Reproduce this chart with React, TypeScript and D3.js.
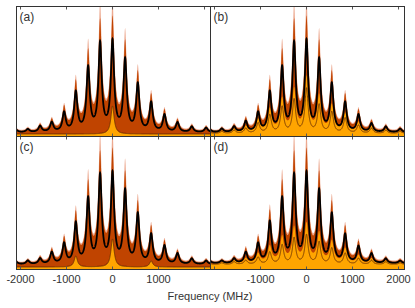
import React from 'react'
import * as d3 from 'd3'

// peak positions of the comb (MHz)
const peakMHz = [-2105, -1841, -1574, -1320, -1052, -798, -530, -270, 0, 274, 550, 840, 1130, 1413, 1724, 2035, 2340]

// total fit amplitudes (black line)
const fitA = [3, 3, 6, 9.5, 19, 39, 63, 87, 89, 71, 47, 29, 17, 9.5, 5.5, 4.5, 3]
const fitB = [3, 3.5, 5.5, 10.5, 19, 39, 63, 87, 89, 71, 47, 29, 17, 8.5, 5.5, 3.5, 3]
const fitC = [3, 3.5, 5.5, 11.5, 20, 40, 64, 87, 89, 72, 49, 29, 18, 10.5, 5.5, 3.5, 3]
const fitD = [2.5, 2.5, 4.5, 10.5, 19, 40, 63, 86, 88, 71, 48, 28, 16.5, 9.5, 4.5, 2.5, 2]

// component fit amplitudes (brown line, orange fill)
const compA = [0, 0, 0, 0, 0, 0, 0, 0, 28, 0, 0, 0, 0, 0, 0, 0, 0]
const compB = [1, 2, 3, 5, 10, 18, 26, 33, 44, 28, 21, 15, 8, 5, 3, 2, 1]
const compC = [0, 0, 0, 0, 0, 11, 0, 0, 28, 0, 0, 6, 0, 0, 0, 0, 0]
const compD = [1, 1.5, 2.5, 4, 7, 12, 19, 26, 29, 22, 16, 11, 6, 4, 2.5, 1.5, 1]

// measured peak values of the data histogram
const dataA = [6, 7, 10, 16, 30, 48, 86, 98, 106, 76, 55, 41, 26, 16, 11, 7, 6]
const dataB = [6, 8, 11, 16, 29, 48, 86, 95, 106, 76, 55, 40, 22, 14, 11, 8, 6]
const dataC = [8, 10, 12, 19, 26, 49, 87, 100, 108, 78, 57, 41, 28, 18, 12, 10, 8]
const dataD = [8, 10, 12, 22, 31, 49, 87, 100, 108, 78, 57, 41, 28, 16, 12, 10, 8]

// excess of the data over the fit in the peak wings
const wingA = [0.5, 0.5, 1, 2, 4, 8, 13, 18, 19, 14, 9, 6, 3.5, 2, 1, 1, 0.5]
const wingB = [0.5, 0.5, 1, 2, 4, 8, 13, 18, 19, 14, 9, 6, 3.5, 2, 1, 1, 0.5]
const wingC = [0.5, 0.5, 1, 2, 4, 8, 13, 18, 19, 14, 9, 6, 3.5, 2, 1, 1, 0.5]
const wingD = [0.5, 0.5, 1, 2, 4, 8, 13, 18, 19, 14, 9, 6, 3.5, 2, 1, 1, 0.5]
const compWingB = [0, 0.5, 1, 1.5, 3, 5, 7, 9, 10, 8, 6, 4, 2.5, 1.5, 1, 0.5, 0]
const compWingD = [0, 0.5, 1, 1.5, 3, 5, 7, 9, 10, 8, 6, 4, 2.5, 1.5, 1, 0.5, 0]
const compWingNone = peakMHz.map(() => 0)

const baseTotal = [4, 4, 5, 6]
const baseComp = [2.5, 3, 2.5, 5]
const labels = ['(a)', '(b)', '(c)', '(d)']
const xTicks = [-2000, -1000, 0, 1000, 2000]
const tickLabelsC = [-2000, -1000, 0, 1000]
const tickLabelsD = [-1000, 0, 1000, 2000]

const GAMMA = 42
const WING = 95
const SPIKE = 16
const FONT = '"Liberation Sans", Arial, sans-serif'

const lor = (x: number, x0: number, g: number) => {
  const d = x - x0
  return (g * g) / (d * d + g * g)
}

const sumPeaks = (x: number, amps: number[], base: number, g: number) => {
  let s = base
  peakMHz.forEach((p, i) => { s += amps[i] * lor(x, p, g) })
  return s
}

// error bar half-length for a bin value
const errOf = (d: number) => 1 + 0.0011 * d * d

const xs = d3.range(-2100, 2140, 2)

function Panel({ i, x0, y0, w, h, fit, comp, data, wing, compWing, tickLabels }: any) {
  const x = d3.scaleLinear().domain([-2087, 2130]).range([x0, x0 + w])
  const bottom = y0 + h
  const y = d3.scaleLinear().domain([0, 130]).range([bottom, bottom - 130])

  const total = (v: number) => sumPeaks(v, fit, baseTotal[i], GAMMA)
  const smooth = (v: number) => total(v) + sumPeaks(v, wing, 0, WING)
  const atPeak = peakMHz.map(p => smooth(p))
  const dataV = (v: number) => {
    let s = smooth(v)
    peakMHz.forEach((p, k) => { s += Math.max(0, data[k] - atPeak[k]) * lor(v, p, SPIKE) })
    return s
  }
  const compV = (v: number) => sumPeaks(v, comp, baseComp[i], GAMMA)
  const compData = (v: number) => compV(v) + sumPeaks(v, compWing, 0, WING)

  const pts = xs.map(v => ({ v, t: total(v), d: dataV(v), c: compV(v), cd: compData(v) }))

  const errBand = d3.area<any>()
    .x(p => x(p.v))
    .y0(p => y(p.d - errOf(p.d)))
    .y1(p => y(p.d + errOf(p.d)))
  const dataArea = d3.area<any>().x(p => x(p.v)).y0(bottom).y1(p => y(p.d))
  const compArea = d3.area<any>().x(p => x(p.v)).y0(bottom).y1(p => y(p.cd))
  const compLine = d3.line<any>().x(p => x(p.v)).y(p => y(p.c))
  const totalLine = d3.line<any>().x(p => x(p.v)).y(p => y(p.t))

  const clipId = `clip${i}`
  return (
    <g>
      <clipPath id={clipId}>
        <rect x={x0} y={y0} width={w} height={h} />
      </clipPath>
      <g clipPath={`url(#${clipId})`}>
        <path d={errBand(pts) || ''} fill="#e99a7c" fillOpacity={0.85} />
        <path d={dataArea(pts) || ''} fill="#c04400" />
        <path d={compArea(pts) || ''} fill="#ffa500" />
        <path d={compLine(pts) || ''} fill="none" stroke="#6b3300" strokeWidth={1} strokeOpacity={0.85} />
        <path d={totalLine(pts) || ''} fill="none" stroke="#000" strokeWidth={1.8} />
      </g>
      {xTicks.map(t => (
        <g key={t}>
          <line x1={x(t)} x2={x(t)} y1={y0} y2={y0 + 3} stroke="#555" />
          <line x1={x(t)} x2={x(t)} y1={bottom} y2={bottom - 3} stroke="#555" />
        </g>
      ))}
      <rect x={x0} y={y0} width={w} height={h} fill="none" stroke="#333" strokeWidth={1} />
      <text x={x0 + 3} y={y0 + 14} fontFamily={FONT} fontSize={12} fill="#333">{labels[i]}</text>
      {tickLabels && tickLabels.map((t: number) => (
        <text key={t} x={x(t)} y={283} textAnchor="middle" fontFamily={FONT} fontSize={11} fill="#333">{t}</text>
      ))}
    </g>
  )
}

export default function App() {
  const L = 16.5, M = 210.5, R = 404.5
  const T = 6.5, C = 136.5, B = 269.5
  return (
    <svg width={415} height={308} style={{ position: 'absolute', left: 0, top: 0 }}>
      <rect width={415} height={308} fill="#fff" />
      <Panel i={0} x0={L} y0={T} w={M - L} h={C - T} fit={fitA} comp={compA} data={dataA} wing={wingA} compWing={compWingNone} />
      <Panel i={1} x0={M} y0={T} w={R - M} h={C - T} fit={fitB} comp={compB} data={dataB} wing={wingB} compWing={compWingB} />
      <Panel i={2} x0={L} y0={C} w={M - L} h={B - C} fit={fitC} comp={compC} data={dataC} wing={wingC} compWing={compWingNone} tickLabels={tickLabelsC} />
      <Panel i={3} x0={M} y0={C} w={R - M} h={B - C} fit={fitD} comp={compD} data={dataD} wing={wingD} compWing={compWingD} tickLabels={tickLabelsD} />
      <text x={210} y={300} textAnchor="middle" fontFamily={FONT} fontSize={11} fill="#333">Frequency (MHz)</text>
    </svg>
  )
}
